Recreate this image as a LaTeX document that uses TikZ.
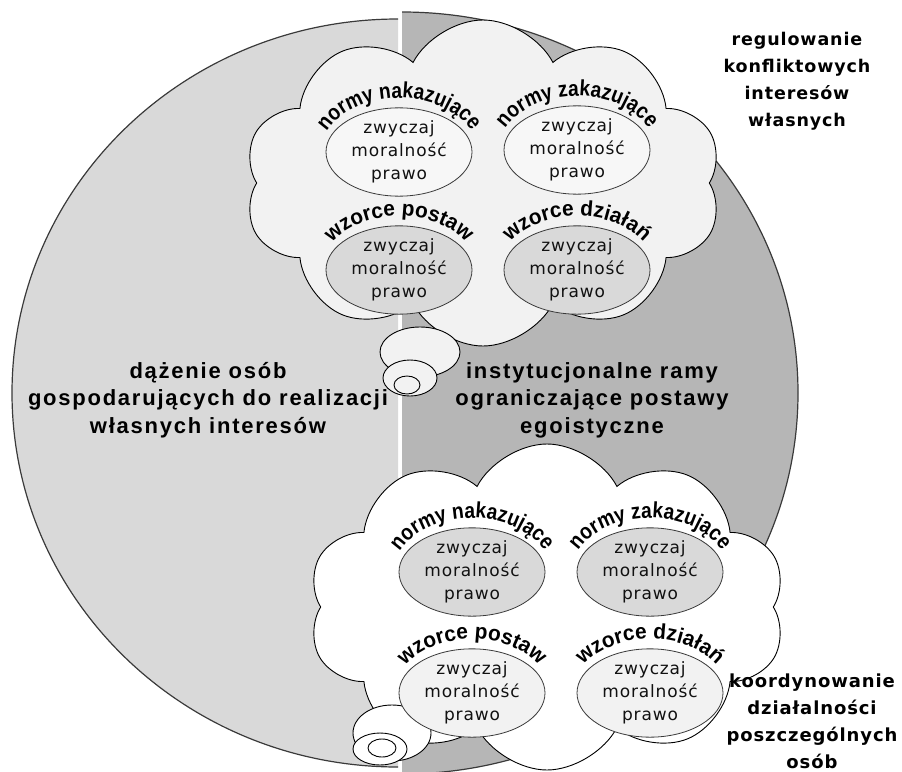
\documentclass[tikz,border=0pt]{standalone}
\usepackage{fontspec}
\setmainfont{DejaVu Sans}
\newfontfamily\rsBodyFam[LetterSpace=5]{DejaVu Sans}
\newfontfamily\rsSideFam[LetterSpace=5]{DejaVu Sans}
\newfontfamily\rsBigFam[LetterSpace=8]{Liberation Sans}
\newfontfamily\rsArcFamN[FakeStretch=0.87]{Liberation Sans}
\newfontfamily\rsArcFamW[FakeStretch=0.97]{Liberation Sans}
\usetikzlibrary{shapes.symbols,shapes.geometric,decorations.text}
\newcommand\rsBody{\rsBodyFam\fontsize{17}{23}\selectfont}
\newcommand\rsBig{\rsBigFam\bfseries\fontsize{22}{27.5}\selectfont}
\newcommand\rsSideA{\rsSideFam\bfseries\fontsize{17.5}{27}\selectfont}
\newcommand\rsSideB{\rsSideFam\bfseries\fontsize{18}{27}\selectfont}
\newcommand\rsArcN{\rsArcFamN\bfseries\fontsize{22}{22}\selectfont}
\newcommand\rsArcW{\rsArcFamW\bfseries\fontsize{21.5}{22}\selectfont}
\definecolor{leftgray}{HTML}{D9D9D9}
\definecolor{rightgray}{HTML}{B6B6B6}
\definecolor{cloudA}{HTML}{F2F2F2}
\definecolor{ellLight}{HTML}{F7F7F7}
\definecolor{ellDark}{HTML}{D9D9D9}
\definecolor{edgegray}{HTML}{3A3A3A}
\definecolor{txt}{HTML}{111111}
% #1 x, #2 y (ellipse centre), #3 font command, #4 text
\newcommand\rsArcWord[4]{%
  \path[decorate,decoration={text along path,text align=center,text={|#3|#4}}]
    (#1,#2+4) ++(200:80 and 58) arc[start angle=200,end angle=340,x radius=80,y radius=58];}
\tikzset{
  halfedge/.style={draw=edgegray,line width=1.2pt},
  cloudbox/.style={cloud,cloud puffs=10,cloud puff arc=125,cloud ignores aspect,draw=black,line width=0.9pt,inner sep=0pt,minimum width=478pt,minimum height=326pt},
  bubble/.style={ellipse,draw=black,line width=0.9pt,inner sep=0pt},
  normbox/.style={ellipse,draw=edgegray,line width=0.8pt,minimum width=146pt,minimum height=86pt,inner sep=0pt,align=center,font=\rsBody,text=txt},
  bigtext/.style={align=center,font=\rsBig,text=black},
}
\begin{document}
\begin{tikzpicture}[x=1pt,y=-1pt]
\useasboundingbox (0,0) rectangle (902,771);
% two halves
\fill[rightgray] (402,12) arc[start angle=-90,end angle=90,x radius=396,y radius=381] -- cycle;
\draw[halfedge] (402,12) arc[start angle=-90,end angle=90,x radius=396,y radius=381];
\fill[leftgray] (398,19) arc[start angle=-90,end angle=-270,x radius=386,y radius=374] -- cycle;
\draw[halfedge] (398,19) arc[start angle=-90,end angle=-270,x radius=386,y radius=374];

% top cloud
\node[cloudbox,fill=cloudA] (topcloud) at (483,183) {};
\node[bubble,fill=cloudA,minimum width=80pt,minimum height=50pt] (topb1) at (420,352) {};
\node[bubble,fill=cloudA,minimum width=54pt,minimum height=36pt] (topb2) at (410,378) {};
\node[bubble,fill=cloudA,minimum width=26pt,minimum height=18pt] (topb3) at (407,385) {};

\node[normbox,fill=ellLight] (t1) at (399,152) {zwyczaj\\moralność\\prawo};
\node[normbox,fill=ellLight] (t2) at (577,150) {zwyczaj\\moralność\\prawo};
\node[normbox,fill=ellDark] (t3) at (399,270) {zwyczaj\\moralność\\prawo};
\node[normbox,fill=ellDark] (t4) at (577,270) {zwyczaj\\moralność\\prawo};
\rsArcWord{399}{152}{\rsArcN}{normy nakazujące}
\rsArcWord{577}{150}{\rsArcN}{normy zakazujące}
\rsArcWord{399}{270}{\rsArcW}{wzorce postaw}
\rsArcWord{577}{270}{\rsArcW}{wzorce działań}

% bottom cloud
\node[cloudbox,fill=white] (botcloud) at (547,607) {};
\node[bubble,fill=white,minimum width=78pt,minimum height=56pt] (botb1) at (392,733) {};
\node[bubble,fill=white,minimum width=54pt,minimum height=32pt] (botb2) at (380,749) {};
\node[bubble,fill=white,minimum width=28pt,minimum height=18pt] (botb3) at (382,748) {};

\node[normbox,fill=ellDark] (b1) at (472,572) {zwyczaj\\moralność\\prawo};
\node[normbox,fill=ellDark] (b2) at (650,572) {zwyczaj\\moralność\\prawo};
\node[normbox,fill=cloudA] (b3) at (472,693) {zwyczaj\\moralność\\prawo};
\node[normbox,fill=cloudA] (b4) at (650,693) {zwyczaj\\moralność\\prawo};
\rsArcWord{472}{572}{\rsArcN}{normy nakazujące}
\rsArcWord{650}{572}{\rsArcN}{normy zakazujące}
\rsArcWord{472}{693}{\rsArcW}{wzorce postaw}
\rsArcWord{650}{693}{\rsArcW}{wzorce działań}

% labels
\node[bigtext] (leftlabel) at (208,400) {dążenie osób\\gospodarujących do realizacji\\własnych interesów};
\node[bigtext] (rightlabel) at (592,400) {instytucjonalne ramy\\ograniczające postawy\\egoistyczne};
\node[align=center,font=\rsSideA] (reglabel) at (797,81) {regulowanie\\konfliktowych\\interesów\\własnych};
\node[align=center,font=\rsSideB] (koordlabel) at (812,721) {koordynowanie\\działalności\\poszczególnych\\osób};
\end{tikzpicture}
\end{document}
